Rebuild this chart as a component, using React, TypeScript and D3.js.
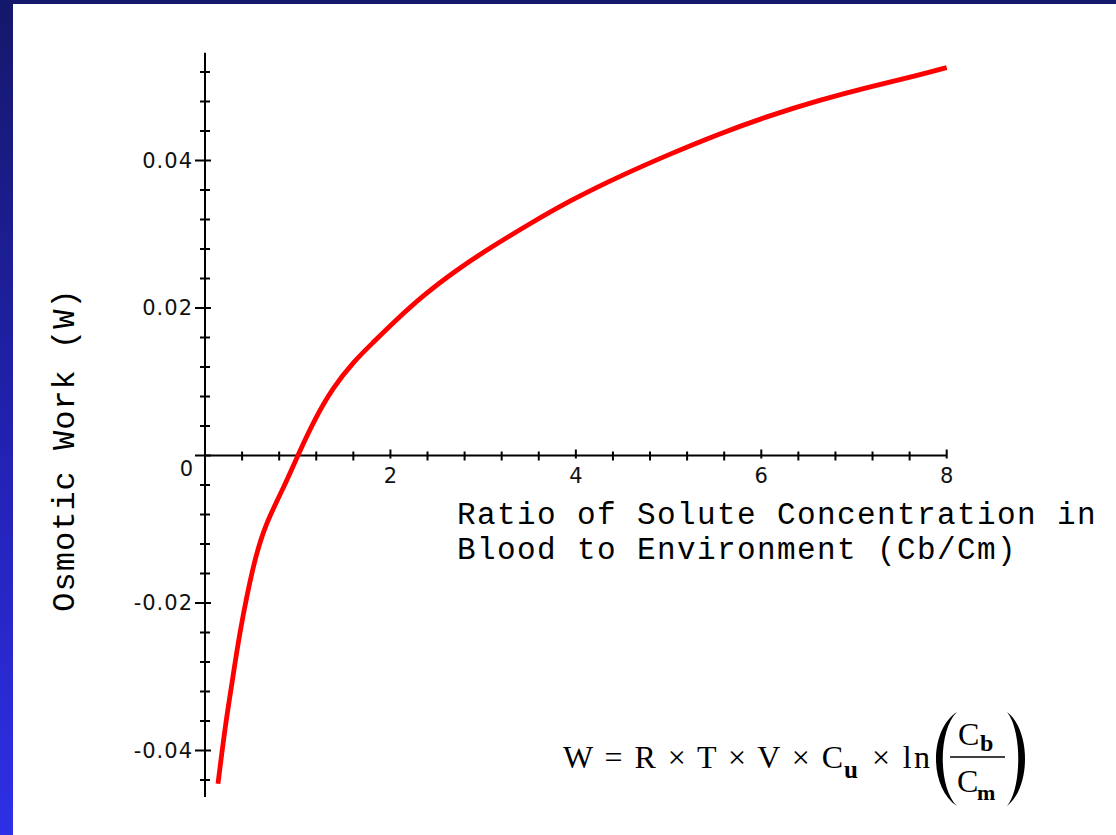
import React, { useRef, useEffect } from 'react';
import * as d3 from 'd3';

// values
const ratio = [0.14, 0.22, 0.29, 0.37, 0.52, 0.65, 0.86, 1.0, 1.19, 1.38, 1.6, 1.82, 2.03, 2.36, 2.72, 3.04, 3.5, 3.94, 4.51, 5.02, 5.52, 6.09, 6.63, 7.17, 7.68, 8.0];
const work = [-0.0445, -0.0365, -0.031, -0.0242, -0.0147, -0.0093, -0.0041, 0, 0.0051, 0.0092, 0.0127, 0.0154, 0.018, 0.0218, 0.0252, 0.0279, 0.0314, 0.0346, 0.0381, 0.0409, 0.0435, 0.0461, 0.0482, 0.05, 0.0515, 0.0526];

const xMajor = [2, 4, 6, 8];
const xLabels = ['2', '4', '6', '8'];
const yMajor = [-0.04, -0.02, 0.02, 0.04];
const yLabels = ['-0.04', '-0.02', '0.02', '0.04'];
const xExtent = [0, 8];
const yExtent = [-0.0463, 0.0546];

const W = 1116;
const H = 835;

export default function App() {
  const svgRef = useRef(null);

  useEffect(() => {
    const svg = d3.select(svgRef.current);
    svg.selectAll('*').remove();

    // slide background
    const defs = svg.append('defs');
    const grad = defs.append('linearGradient').attr('id', 'bg').attr('x1', 0).attr('y1', 0).attr('x2', 0).attr('y2', 1);
    grad.append('stop').attr('offset', '0%').attr('stop-color', '#14186a');
    grad.append('stop').attr('offset', '55%').attr('stop-color', '#2222b4');
    grad.append('stop').attr('offset', '100%').attr('stop-color', '#2f2fe6');
    svg.append('rect').attr('width', W).attr('height', H).attr('fill', 'url(#bg)');
    svg.append('rect').attr('x', 13).attr('y', 4).attr('width', W - 13).attr('height', H - 4).attr('fill', '#ffffff');

    const x = d3.scaleLinear().domain([0, 8]).range([205, 946.7]);
    const y = d3.scaleLinear().domain([-0.04, 0.04]).range([750.5, 160.5]);

    const axes = svg.append('g').attr('stroke', '#000').attr('stroke-width', 2);

    // y axis
    axes.append('line')
      .attr('x1', x(0)).attr('x2', x(0))
      .attr('y1', y(yExtent[0])).attr('y2', y(yExtent[1]));
    const yTicks = d3.range(-11, 14).map((i) => ({ v: i * 0.004, major: i % 5 === 0 }));
    axes.selectAll('.ytick')
      .data(yTicks)
      .join('line')
      .attr('class', 'ytick')
      .attr('x1', (d) => x(0) - (d.major ? 10 : 5))
      .attr('x2', (d) => x(0) + (d.major ? 6 : 5))
      .attr('y1', (d) => y(d.v))
      .attr('y2', (d) => y(d.v));

    // x axis
    axes.append('line')
      .attr('x1', x(xExtent[0])).attr('x2', x(xExtent[1]))
      .attr('y1', y(0)).attr('y2', y(0));
    const xTicks = d3.range(1, 21).map((i) => ({ v: i * 0.4, major: i % 5 === 0 }));
    axes.selectAll('.xtick')
      .data(xTicks)
      .join('line')
      .attr('class', 'xtick')
      .attr('x1', (d) => x(d.v))
      .attr('x2', (d) => x(d.v))
      .attr('y1', (d) => y(0) - (d.major ? 6 : 4))
      .attr('y2', (d) => y(0) + (d.major ? 3 : 5));

    // tick labels
    const tickFont = { family: 'DejaVu Sans', size: '21px' };
    svg.selectAll('.ylab')
      .data(yMajor)
      .join('text')
      .attr('class', 'ylab')
      .attr('x', 193)
      .attr('y', (d) => y(d) + 7)
      .attr('text-anchor', 'end')
      .attr('font-family', tickFont.family)
      .attr('font-size', tickFont.size)
      .attr('letter-spacing', 1)
      .attr('fill', '#111')
      .text((d, i) => yLabels[i]);
    svg.append('text')
      .attr('x', 193)
      .attr('y', y(0) + 20)
      .attr('text-anchor', 'end')
      .attr('font-family', tickFont.family)
      .attr('font-size', tickFont.size)
      .attr('fill', '#111')
      .text('0');
    svg.selectAll('.xlab')
      .data(xMajor)
      .join('text')
      .attr('class', 'xlab')
      .attr('x', (d) => x(d))
      .attr('y', 483)
      .attr('text-anchor', 'middle')
      .attr('font-family', tickFont.family)
      .attr('font-size', tickFont.size)
      .attr('fill', '#111')
      .text((d, i) => xLabels[i]);

    // axis titles
    const mono = 'Liberation Mono, Courier New, monospace';
    svg.append('text')
      .attr('x', 457).attr('y', 524)
      .attr('font-family', mono).attr('font-size', 31).attr('letter-spacing', 1.4).attr('fill', '#000')
      .text('Ratio of Solute Concentration in');
    svg.append('text')
      .attr('x', 457).attr('y', 559)
      .attr('font-family', mono).attr('font-size', 31).attr('letter-spacing', 1.4).attr('fill', '#000')
      .text('Blood to Environment (Cb/Cm)');
    svg.append('text')
      .attr('transform', 'translate(74,450) rotate(-90)')
      .attr('text-anchor', 'middle')
      .attr('font-family', mono).attr('font-size', 32).attr('letter-spacing', 1).attr('fill', '#000')
      .text('Osmotic Work (W)');

    // curve
    const pts = ratio.map((r, i) => [r, work[i]]);
    const line = d3.line()
      .x((d) => x(d[0]))
      .y((d) => y(d[1]))
      .curve(d3.curveBasis);
    svg.append('path')
      .datum(pts)
      .attr('d', line)
      .attr('fill', 'none')
      .attr('stroke', '#ff0000')
      .attr('stroke-width', 4.8)
      .attr('stroke-linejoin', 'round');

    // formula
    const serif = 'Liberation Serif, Times New Roman, serif';
    const f = svg.append('g').attr('font-family', serif).attr('fill', '#000');
    f.append('text')
      .attr('x', 563).attr('y', 768).attr('font-size', 32)
      .attr('textLength', 280).attr('lengthAdjust', 'spacing')
      .text('W = R \u00d7 T \u00d7 V \u00d7 C');
    f.append('text')
      .attr('x', 844).attr('y', 778).attr('font-size', 25).attr('font-weight', 'bold')
      .text('u');
    f.append('text')
      .attr('x', 872).attr('y', 768).attr('font-size', 32)
      .attr('textLength', 58).attr('lengthAdjust', 'spacing')
      .text('\u00d7 ln');
    f.append('text').attr('x', 958).attr('y', 745).attr('font-size', 32).text('C');
    f.append('text').attr('x', 980).attr('y', 751).attr('font-size', 24).attr('font-weight', 'bold').text('b');
    f.append('text').attr('x', 957).attr('y', 792).attr('font-size', 32).text('C');
    f.append('text').attr('x', 977).attr('y', 800).attr('font-size', 22).attr('font-weight', 'bold').text('m');
    f.append('line')
      .attr('x1', 950).attr('x2', 1005).attr('y1', 757).attr('y2', 757)
      .attr('stroke', '#000').attr('stroke-width', 1.5);
    f.append('path')
      .attr('d', 'M957,712 C929,730 929,788 957,806 C938,788 938,730 957,712 Z');
    f.append('path')
      .attr('d', 'M1007,712 C1031,730 1031,788 1007,806 C1022,788 1022,730 1007,712 Z');
  }, []);

  return (
    <svg
      ref={svgRef}
      width={W}
      height={H}
      style={{ position: 'absolute', left: 0, top: 0, display: 'block' }}
    />
  );
}
